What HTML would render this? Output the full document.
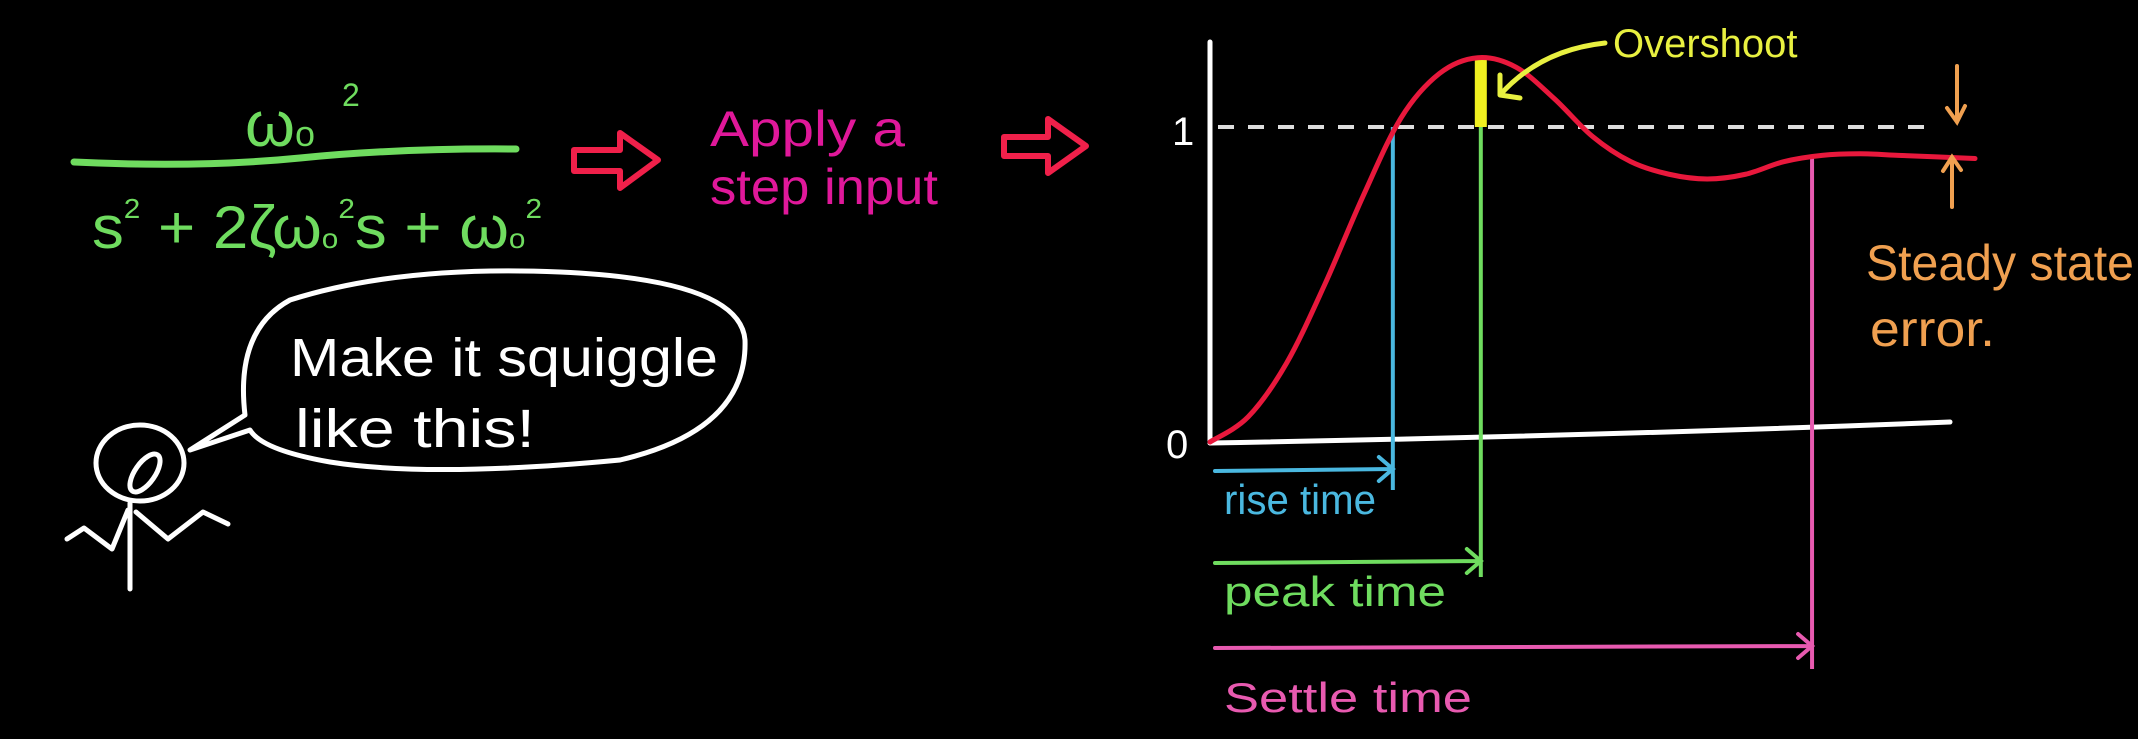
<!DOCTYPE html>
<html><head><meta charset="utf-8"><style>
html,body{margin:0;padding:0;background:#000;}
svg{display:block;}
text{font-family:"Liberation Sans",sans-serif;}
</style></head><body>
<svg id="c" width="2138" height="739" viewBox="0 0 2138 739">
<rect width="2138" height="739" fill="#000"/>
<g fill="#6fdc5f" stroke="none">
<text x="245" y="146" font-size="64">ω<tspan font-size="36">o</tspan></text>
<text x="342" y="106" font-size="32">2</text>
<path d="M74,162 Q200,168 300,158 T516,149" stroke="#6fdc5f" stroke-width="7" fill="none" stroke-linecap="round"/>
<text x="92" y="248" font-size="60" textLength="450" lengthAdjust="spacingAndGlyphs">s<tspan font-size="28" dy="-30">2</tspan><tspan dy="30"> + 2ζω</tspan><tspan font-size="28">o</tspan><tspan font-size="28" dy="-30">2</tspan><tspan dy="30">s + ω</tspan><tspan font-size="28">o</tspan><tspan font-size="28" dy="-30">2</tspan></text>
</g>
<path d="M574,150 L620,150 L620,133 L658,160 L620,188 L620,171 L574,171 Z" fill="none" stroke="#f0204a" stroke-width="6" stroke-linejoin="round"/>
<text x="710" y="146" font-size="50" fill="#e0189a" textLength="195" lengthAdjust="spacingAndGlyphs">Apply  a</text>
<text x="710" y="204" font-size="50" fill="#e0189a" textLength="228" lengthAdjust="spacingAndGlyphs">step input</text>
<path d="M1004,137 L1048,137 L1048,119 L1086,146 L1048,173 L1048,156 L1004,156 Z" fill="none" stroke="#f0204a" stroke-width="6" stroke-linejoin="round"/>
<path d="M190,450 L245,415 Q235,330 290,300 Q400,265 560,272 Q740,280 745,340 Q748,430 620,460 Q430,478 330,462 Q262,450 250,430 Z" fill="none" stroke="#fff" stroke-width="5" stroke-linejoin="round"/>
<text x="290" y="376" font-size="54" fill="#fff" textLength="428" lengthAdjust="spacingAndGlyphs">Make it squiggle</text>
<text x="295" y="447" font-size="54" fill="#fff" textLength="240" lengthAdjust="spacingAndGlyphs">like this!</text>
<g stroke="#fff" stroke-width="5" fill="none" stroke-linecap="round" stroke-linejoin="round">
<ellipse cx="140" cy="463" rx="44" ry="38"/>
<ellipse cx="145" cy="473" rx="10" ry="22" transform="rotate(35 145 473)"/>
<path d="M130,503 L130,589"/>
<path d="M67,539 L84,528 L112,549 L128,510"/>
<path d="M136,512 L168,539 L203,512 L228,524"/>
</g>
<g id="chart"></g>
<text x="1613" y="57" font-size="40" fill="#e8f040">Overshoot</text>
<path d="M1605,43 Q1540,50 1500,95 M1500,95 L1500,75 M1500,95 L1520,98" stroke="#e8f040" stroke-width="5" fill="none" stroke-linecap="round"/>
<g stroke="#f0a050" stroke-width="4" fill="none" stroke-linecap="round">
<path d="M1957,66 L1957,122 M1947,108 L1957,122 L1965,106"/>
<path d="M1952,207 L1952,157 M1943,171 L1952,157 L1961,170"/>
</g>
<text x="1866" y="280" font-size="50" fill="#f0a050" textLength="268" lengthAdjust="spacingAndGlyphs">Steady state</text>
<text x="1870" y="346" font-size="50" fill="#f0a050" textLength="125" lengthAdjust="spacingAndGlyphs">error.</text>
</svg>
<script>
const timeSteps = [0, 0.5, 1, 1.5, 2, 2.5, 3, 3.5, 4, 4.5, 5, 5.5, 6, 6.5, 7, 7.5, 8, 8.5, 9, 9.5, 10];
const responseValues = [0, 0.08, 0.25, 0.5, 0.78, 1.03, 1.17, 1.22, 1.19, 1.09, 0.97, 0.89, 0.85, 0.835, 0.85, 0.89, 0.91, 0.915, 0.91, 0.905, 0.9];
const riseTime = 2.39;
const peakTime = 3.54;
const settleTime = 7.87;
const axisLabels = ["0", "1"];

const svgNS = "http://www.w3.org/2000/svg";
const g = document.getElementById("chart");
const x0 = 1210, x1 = 1975, y0 = 442, y1 = 127;
const xS = t => x0 + (t / 10) * (x1 - x0);
const yS = v => y0 + v * (y1 - y0);
function mk(tag, attrs) {
  const e = document.createElementNS(svgNS, tag);
  for (const k in attrs) e.setAttribute(k, attrs[k]);
  g.appendChild(e);
  return e;
}
let e;
e = mk("path", {d: `M${x0},42 L${x0},443`, stroke: "#fff", "stroke-width": 5, fill: "none", "stroke-linecap": "round"});


e = mk("path", {d: `M${x0},443 Q1600,436 1950,422`, stroke: "#fff", "stroke-width": 5, fill: "none", "stroke-linecap": "round"});


e = mk("text", {x: 1166, y: 458, "font-size": 40, fill: "#fff"}); e.textContent = axisLabels[0];


e = mk("text", {x: 1172, y: 145, "font-size": 40, fill: "#fff"}); e.textContent = axisLabels[1];


e = mk("line", {x1: x0 + 8, y1: yS(1), x2: 1938, y2: yS(1), stroke: "#ddd", "stroke-width": 4, "stroke-dasharray": "16 14"});


const peakV = Math.max(...responseValues);
e = mk("rect", {x: xS(peakTime) - 6, y: yS(peakV), width: 12, height: yS(1) - yS(peakV), fill: "#f0f020"});


const marks = [
  {t: riseTime, c: "#4ab8e0", ay: 469, by: 490, ly: 514, label: "rise time", name: "rise-time", w: 152},
  {t: peakTime, c: "#6fdc5f", ay: 561, by: 577, ly: 606, label: "peak time", name: "peak-time", w: 222},
  {t: settleTime, c: "#e85ab0", ay: 646, by: 669, ly: 712, label: "Settle time", name: "settle-time", w: 248}
];
marks.forEach(m => {
  const xx = xS(m.t);
  let top = m.name === "settle-time" ? yS(0.91) : yS(1);
  let el = mk("line", {x1: xx, y1: top, x2: xx, y2: m.by, stroke: m.c, "stroke-width": 4});
  
  
  el = mk("path", {d: `M${x0 + 5},${m.ay + 2} L${xx},${m.ay} M${xx - 14},${m.ay - 12} L${xx},${m.ay} L${xx - 14},${m.ay + 12}`, stroke: m.c, "stroke-width": 4, fill: "none", "stroke-linecap": "round"});
  
  
  el = mk("text", {x: x0 + 14, y: m.ly, "font-size": 42, fill: m.c, textLength: m.w, lengthAdjust: "spacingAndGlyphs"});
  el.textContent = m.label;
  
  
});
const pts = timeSteps.map((t, i) => [xS(t), yS(responseValues[i])]);
let d = `M${pts[0][0]},${pts[0][1]}`;
for (let i = 0; i < pts.length - 1; i++) {
  const p0 = pts[Math.max(0, i - 1)], p1 = pts[i], p2 = pts[i + 1], p3 = pts[Math.min(pts.length - 1, i + 2)];
  const c1 = [p1[0] + (p2[0] - p0[0]) / 6, p1[1] + (p2[1] - p0[1]) / 6];
  const c2 = [p2[0] - (p3[0] - p1[0]) / 6, p2[1] - (p3[1] - p1[1]) / 6];
  d += ` C${c1[0]},${c1[1]} ${c2[0]},${c2[1]} ${p2[0]},${p2[1]}`;
}
e = mk("path", {d: d, stroke: "#e8183c", "stroke-width": 5, fill: "none", "stroke-linecap": "round"});


</script>
</body></html>
